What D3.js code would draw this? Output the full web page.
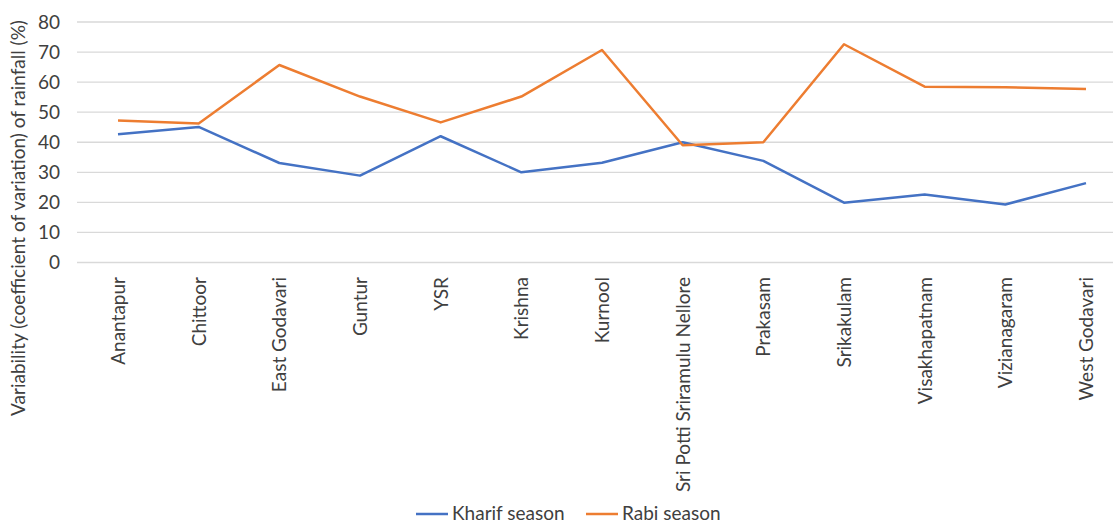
<!DOCTYPE html>
<html><head><meta charset="utf-8">
<script src="https://cdn.jsdelivr.net/npm/d3@7"></script>
<style>body{margin:0;background:#fff}svg{display:block}text{font-family:Lato,"Open Sans",sans-serif;fill:#404040}</style>
</head><body>
<svg id="c" width="1113" height="524"></svg>
<script>
const categories = ["Anantapur","Chittoor","East Godavari","Guntur","YSR","Krishna","Kurnool","Sri Potti Sriramulu Nellore","Prakasam","Srikakulam","Visakhapatnam","Vizianagaram","West Godavari"];
const kharif = [42.7,45.1,33.1,28.9,42.0,30.0,33.2,40.0,33.8,19.9,22.6,19.3,26.4];
const rabi = [47.2,46.2,65.7,55.2,46.6,55.2,70.7,39.0,40.0,72.6,58.5,58.3,57.7];
const yTicks = [0,10,20,30,40,50,60,70,80];
const seriesNames = ["Kharif season","Rabi season"];
const colors = ["#4472C4","#ED7D31"];
const fs = "19px";

const svg = d3.select("#c");
const x = d3.scalePoint().domain(categories).range([118, 1086]);
const y = d3.scaleLinear().domain([0,80]).range([262.5, 22]);

// gridlines
svg.append("g").selectAll("line").data(yTicks).join("line")
  .attr("x1",77).attr("x2",1113).attr("y1",d=>y(d)).attr("y2",d=>y(d))
  .attr("stroke","#d9d9d9").attr("stroke-width",1.3);

// y axis labels
const ya = svg.append("g").attr("transform","translate(60,0)")
  .call(d3.axisLeft(y).tickValues(yTicks).tickSize(0).tickPadding(0));
ya.select(".domain").remove();
ya.selectAll("text").style("font-size",fs).style("font-family","Lato").attr("fill","#404040");

// x axis labels
const xa = svg.append("g").attr("transform","translate(0,277)")
  .call(d3.axisBottom(x).tickSize(0).tickPadding(0));
xa.select(".domain").remove();
xa.selectAll("text").style("font-size",fs).style("font-family","Lato").attr("fill","#404040")
  .attr("transform","rotate(-90)").attr("text-anchor","end").attr("x",0).attr("y",0).attr("dy","0.35em").attr("dx","0");

// y title
svg.append("text").attr("transform","translate(25,218) rotate(-90)").attr("text-anchor","middle")
  .style("font-size",fs).text("Variability (coefficient of variation) of rainfall (%)");

// lines
const line = d3.line().x((d,i)=>x(categories[i])).y(d=>y(d));
[kharif,rabi].forEach((s,k)=>{
  svg.append("path").datum(s).attr("d",line).attr("fill","none")
    .attr("stroke",colors[k]).attr("stroke-width",2.5).attr("stroke-linejoin","round");
});

// legend
const lg = svg.append("g");
const lx = [416, 586];
seriesNames.forEach((n,k)=>{
  lg.append("line").attr("x1",lx[k]).attr("x2",lx[k]+32).attr("y1",514).attr("y2",514)
    .attr("stroke",colors[k]).attr("stroke-width",2.5);
  lg.append("text").attr("x",lx[k]+36).attr("y",513).attr("dy","0.35em")
    .style("font-size",fs).text(n);
});
</script>
</body></html>
